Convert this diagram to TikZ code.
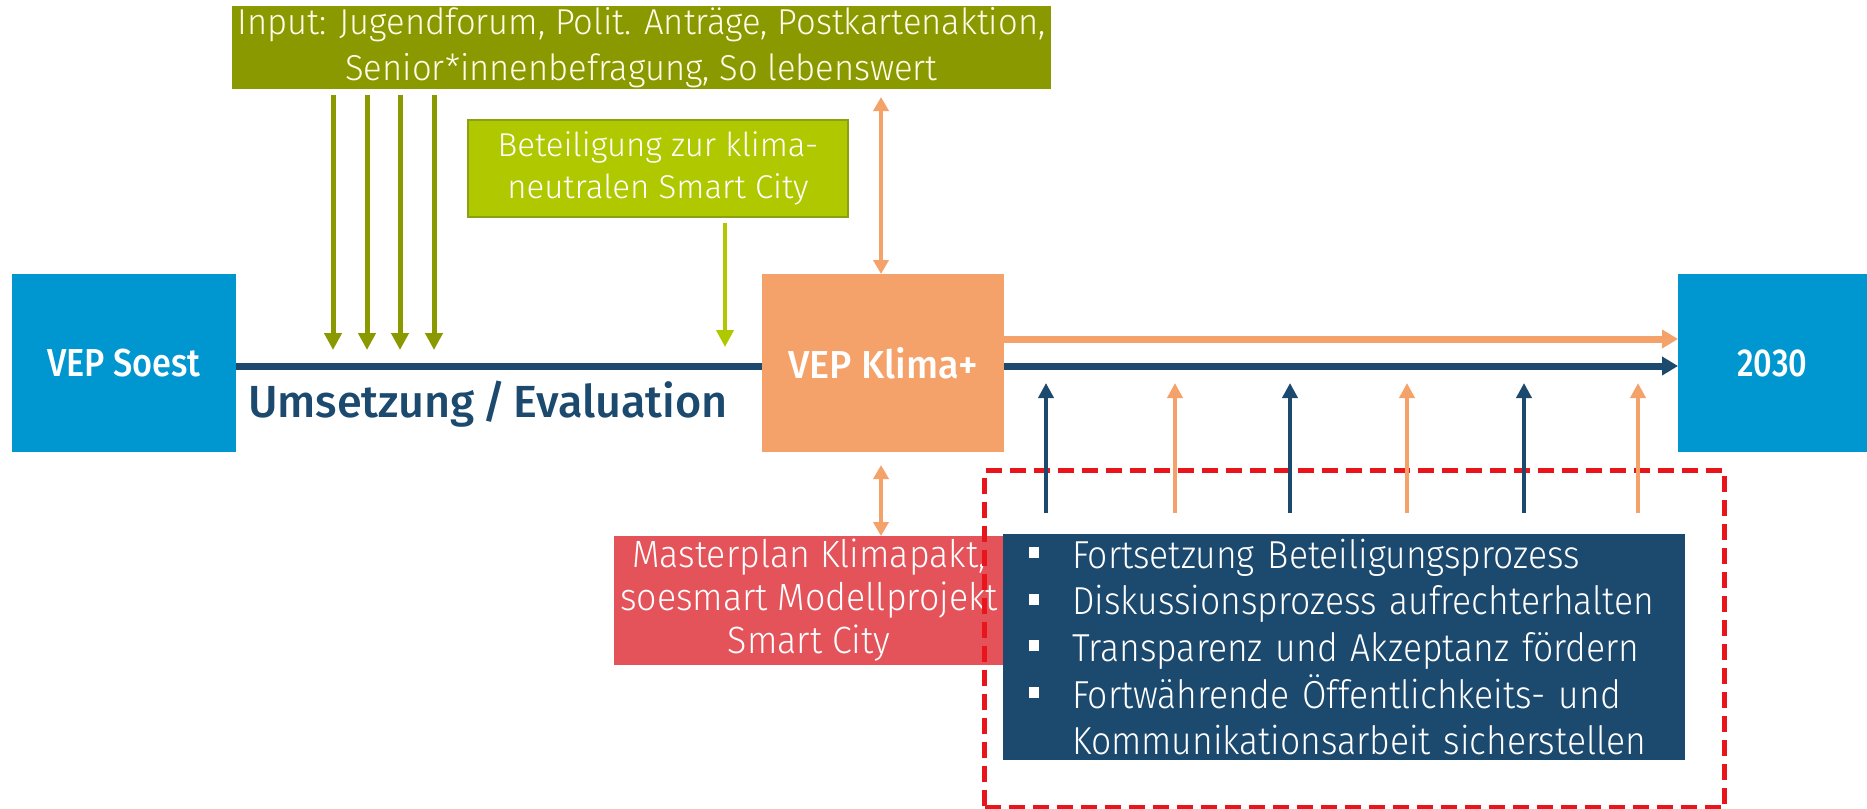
\documentclass[tikz,border=0pt]{standalone}
\usepackage{fontspec}
\setmainfont{Fira Sans Light}[FakeStretch=0.91]
\newfontfamily\widefont{Fira Sans Light}
\newfontfamily\inputfont{Fira Sans Light}[FakeStretch=0.96]
\newfontfamily\masterfont{Fira Sans Light}[FakeStretch=0.94]
\newfontfamily\headfont{Fira Sans Medium}[FakeStretch=0.88]
\newfontfamily\phasefont{Fira Sans Medium}
\usetikzlibrary{arrows.meta}

\definecolor{cOlive}{RGB}{138,153,0}
\definecolor{cLime}{RGB}{176,200,0}
\definecolor{cLimeEdge}{RGB}{140,160,20}
\definecolor{cSky}{RGB}{0,150,208}
\definecolor{cPeach}{RGB}{244,162,106}
\definecolor{cNavy}{RGB}{28,73,110}
\definecolor{cCoral}{RGB}{228,83,90}
\definecolor{cDashRed}{RGB}{232,22,28}

\tikzset{
  box/.style={rectangle, inner sep=0pt, outer sep=0pt, anchor=north west, text=white, align=center},
  headbox/.style={box, fill=cSky, font=\headfont\fontsize{39}{44}\selectfont},
  tipstyle/.style={-{Triangle[length=17pt,width=17pt]}},
  olivearrow/.style={draw=cOlive, line width=5pt, tipstyle},
  limearrow/.style={draw=cLime, line width=4pt, tipstyle},
  peachtwo/.style={draw=cPeach, line width=4pt, {Triangle[length=14pt,width=15pt]}-{Triangle[length=14pt,width=15pt]}},
  navyup/.style={draw=cNavy, line width=4pt, {-Triangle[length=15pt,width=15pt]}},
  peachup/.style={draw=cPeach, line width=4pt, {-Triangle[length=15pt,width=15pt]}},
  strand/.style={line width=7pt, -{Triangle[length=16pt,width=18pt]}}
}

\newcommand{\sqbullet}{\hspace*{26pt}\makebox[43pt][l]{\rule[10pt]{10pt}{11pt}}}

\begin{document}
\begin{tikzpicture}[x=1pt,y=-1pt]
\useasboundingbox (0,0) rectangle (1867,808);

% main milestone boxes
\node[headbox, minimum width=224pt, minimum height=178pt] (soest) at (12,274) {VEP Soest};
\node[headbox, fill=cPeach, minimum width=242pt, minimum height=178pt] (klima) at (762,274) {\scalebox{1.1}[1]{VEP Klima+}};
\node[headbox, minimum width=189pt, minimum height=178pt] (goal) at (1678,274) {\scalebox{0.95}[1]{2030}};

% input boxes at the top
\node[box, fill=cOlive, minimum width=819pt, minimum height=83pt,
      font=\inputfont\fontsize{36}{46}\selectfont, text=white!92!yellow] (input) at (232,6)
  {Input: Jugendforum, Polit. Anträge, Postkartenaktion,\\Senior*innenbefragung, So lebenswert};
\node[box, fill=cLime, draw=cLimeEdge, line width=1.5pt, minimum width=380pt, minimum height=97pt,
      font=\widefont\fontsize{33}{42}\selectfont] (smart) at (468,120)
  {Beteiligung zur klima-\\neutralen Smart City};

% lower boxes
\node[box, fill=cCoral, minimum width=390pt, minimum height=129pt,
      font=\masterfont\fontsize{38}{43}\selectfont] (master) at (614,536)
  {Masterplan Klimapakt,\\soesmart Modellprojekt\\Smart City};
\node[box, fill=cNavy, minimum width=682pt, minimum height=226pt, align=left,
      text width=682pt, font=\fontsize{39}{46.7}\selectfont] (tasks) at (1003,534)
  {\sqbullet Fortsetzung Beteiligungsprozess\\
   \sqbullet Diskussionsprozess aufrechterhalten\\
   \sqbullet Transparenz und Akzeptanz fördern\\
   \sqbullet Fortwährende Öffentlichkeits- und\\
   \hspace*{69pt}Kommunikationsarbeit sicherstellen};

% label under the timeline
\node[font=\phasefont\fontsize{45}{50}\selectfont, text=cNavy, inner sep=0pt] (phase) at (488,404)
  {Umsetzung\,/\,Evaluation};

% timeline coordinates
\coordinate (lineA) at (236,366);
\coordinate (lineB) at (1004,366);
\coordinate (lineC) at (1004,339);

% timeline from VEP Soest to VEP Klima+
\draw[cNavy, line width=7pt] (soest.east |- lineA) -- (klima.west |- lineA);
% two strands from VEP Klima+ to 2030
\draw[cPeach, strand] (klima.east |- lineC) -- (goal.west |- lineC);
\draw[cNavy, strand] (klima.east |- lineB) -- (goal.west |- lineB);

% inputs flowing down onto the timeline
\foreach \i/\x in {1/333,2/367,3/400,4/434}{
  \coordinate (in\i) at (\x,350);
  \draw[olivearrow] (input.south -| in\i) ++(0,6) -- (in\i);
}
\coordinate (sm1) at (725,347);
\draw[limearrow] (smart.south -| sm1) ++(0,6) -- (sm1);

% exchange with VEP Klima+
\coordinate (ex1) at (881,97);
\coordinate (ex2) at (881,465);
\draw[peachtwo] (ex1) -- (klima.north -| ex1);
\draw[peachtwo] (ex2) -- (master.north -| ex2);

% dashed frame around the continuing measures
\node[draw=cDashRed, line width=5pt, dash pattern=on 16pt off 8pt, inner sep=0pt,
      minimum width=740pt, minimum height=337pt, anchor=north west] (frame) at (982,468) {};

% supporting arrows up to the strands
\foreach \j/\x/\s in {1/1046/navyup,2/1175/peachup,3/1290/navyup,4/1407/peachup,5/1524/navyup,6/1638/peachup}{
  \coordinate (up\j) at (\x,513);
  \coordinate (tip\j) at (\x,383);
  \draw[\s] (up\j) -- (tip\j);
}
\end{tikzpicture}
\end{document}
